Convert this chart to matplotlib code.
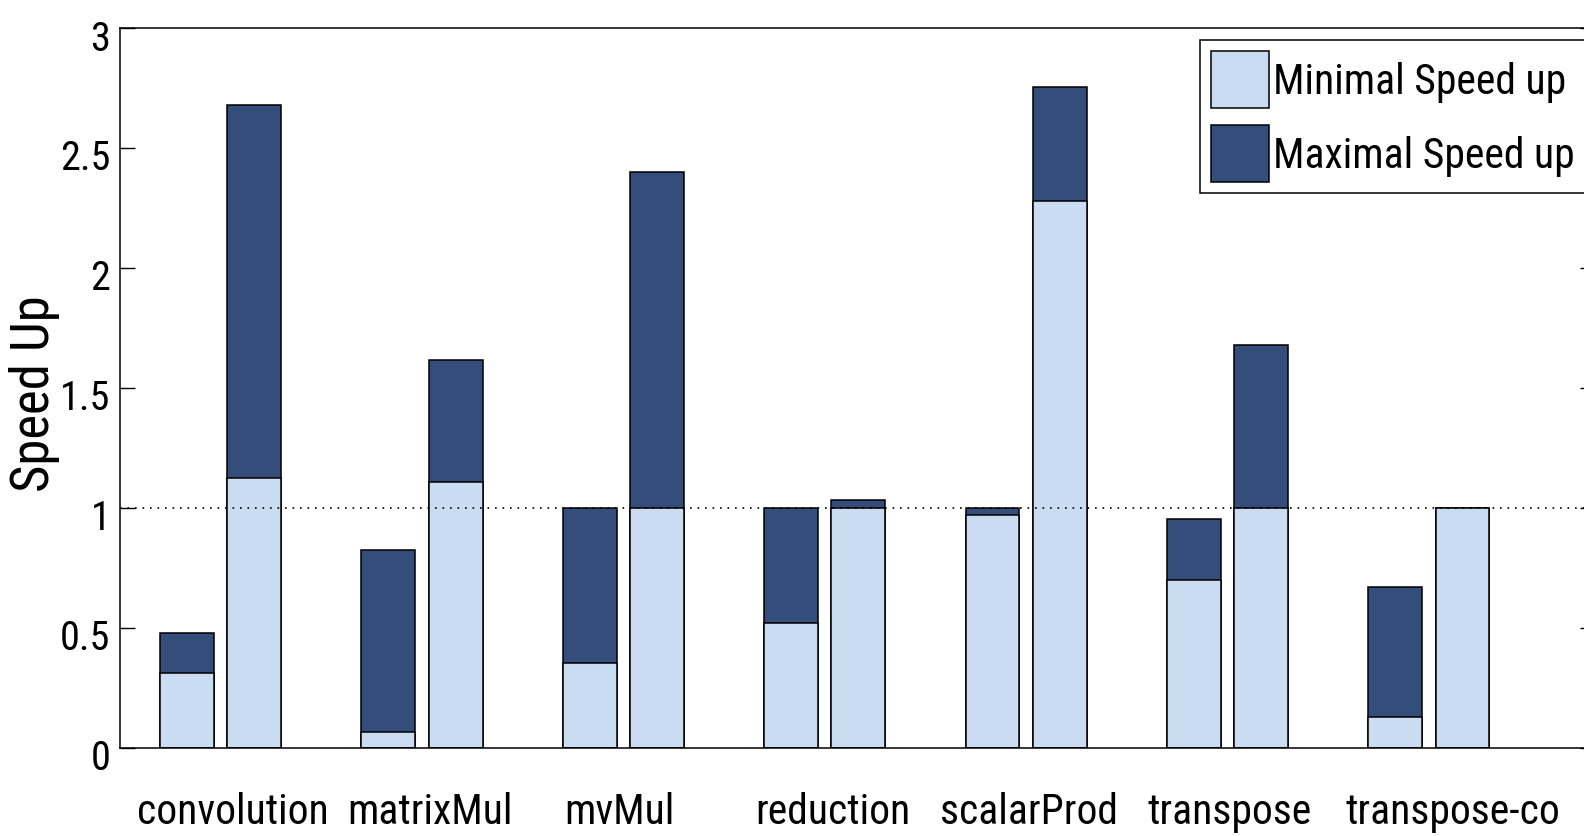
import numpy as np
import matplotlib
matplotlib.use("Agg")
from matplotlib import pyplot as plt
from matplotlib import transforms

# speed up per benchmark (two configurations per benchmark)
benchmarks = ["convolution", "matrixMul", "mvMul", "reduction",
              "scalarProd", "transpose", "transpose-co"]
min_a = [0.312, 0.066, 0.355, 0.521, 0.972, 0.701, 0.13]
max_a = [0.48, 0.827, 1.0, 1.0, 1.0, 0.955, 0.67]
min_b = [1.123, 1.108, 1.0, 1.0, 2.281, 1.0, 1.0]
max_b = [2.68, 1.616, 2.402, 1.035, 2.756, 1.681, 1.0]

light = "#cadcf2"
dark = "#344d7b"
narrow = ["Roboto Condensed", "Liberation Sans", "DejaVu Sans"]

W, H = 1584, 837
fig = plt.figure(figsize=(W / 100, H / 100), dpi=100)
# axes runs a little past the right edge of the canvas
ax = fig.add_axes([120 / W, 88 / H, (1595 - 120) / W, 720 / H])

x = np.arange(1, len(benchmarks) + 1)
off = 0.167
bw = 0.268

ax.bar(x - off, max_a, bw, color=dark, edgecolor="k", linewidth=1.1)
ax.bar(x + off, max_b, bw, color=dark, edgecolor="k", linewidth=1.1)
h_min = ax.bar(x - off, min_a, bw, color=light, edgecolor="k", linewidth=1.1)
ax.bar(x + off, min_b, bw, color=light, edgecolor="k", linewidth=1.1)
h_max = plt.Rectangle((0, 0), 1, 1, facecolor=dark, edgecolor="k", linewidth=1.1)

ax.axhline(1, color="k", linestyle=(0, (1, 3.5)), linewidth=1.2)

ax.set_xlim(0.5, 7.825)
ax.set_ylim(0, 3)
ax.set_yticks([0, 0.5, 1, 1.5, 2, 2.5, 3])
ax.set_yticklabels(["0", "0.5", "1", "1.5", "2", "2.5", "3"], family=narrow, fontsize=29)
ax.set_xticks(x)
ax.set_xticklabels(benchmarks, family=narrow, fontsize=30)

ax.tick_params(axis="y", direction="in", length=11, width=1, right=True, pad=7)
ax.tick_params(axis="x", length=0, pad=31)
for s in ax.spines.values():
    s.set_linewidth(1.1)

# shift y labels a bit below their ticks
shift = transforms.ScaledTranslation(0, -0.06, fig.dpi_scale_trans)
for lab in ax.get_yticklabels():
    lab.set_transform(lab.get_transform() + shift)

# nudge the category names sideways (pixels)
nudge = [12, 8, -4, 8, 3, 2, 24]
for lab, dx in zip(ax.get_xticklabels(), nudge):
    lab.set_transform(lab.get_transform()
                      + transforms.ScaledTranslation(dx / 100, 0, fig.dpi_scale_trans))

ax.set_ylabel("Speed Up", family=narrow, fontsize=38, va="center")
ax.yaxis.set_label_coords(35 / W, 1 - 394 / H, transform=fig.transFigure)

leg = ax.legend([h_min, h_max], ["Minimal Speed up", "Maximal Speed up"],
                loc="upper left", bbox_to_anchor=(1200 / W, 1 - 41 / H),
                bbox_transform=fig.transFigure, borderaxespad=0,
                prop={"family": narrow, "size": 30},
                handlelength=1.39, handleheight=1.7, handletextpad=0.1,
                labelspacing=0.43, borderpad=0.27, fancybox=False,
                framealpha=1, edgecolor="k")
leg.get_frame().set_linewidth(1.1)

fig.savefig("out.png", dpi=100)
